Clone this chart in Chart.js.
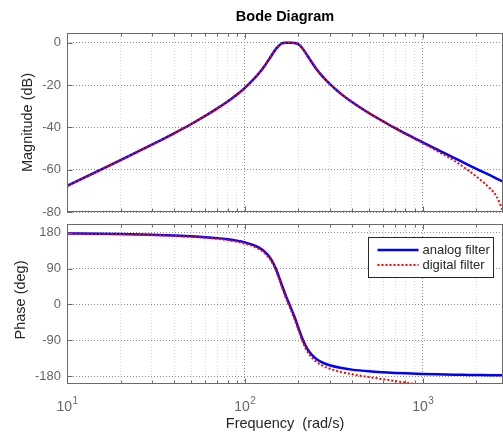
<!DOCTYPE html>
<html>
<head>
<meta charset="utf-8">
<script src="https://cdn.jsdelivr.net/npm/chart.js@4.4.0/dist/chart.umd.min.js"></script>
<style>
    html, body { margin: 0; padding: 0; background: #fff; overflow: hidden; }
    #wrap { position: relative; width: 503px; height: 434px; }
    #magChart { position: absolute; left: 0; top: 0; }
    #phaseChart { position: absolute; left: 0; top: 216px; }
</style>
</head>
<body>
<div id="wrap">
    <canvas id="magChart" width="503" height="216"></canvas>
    <canvas id="phaseChart" width="503" height="218"></canvas>
</div>
<script>
// Frequency points (rad/s)
const freq = [10, 15, 20, 30, 40, 50, 60, 70, 80, 90,
    100, 110, 120, 130, 140, 150, 160, 170, 180, 190, 200, 210, 220, 230,
    250, 270, 300, 350, 400, 500, 600, 700, 800,
    1000, 1200, 1500, 1800, 2100, 2400, 2600, 2827];

// Magnitude (dB)
const magAnalog = [-67.7, -60.6, -55.5, -48.2, -42.8, -38.4, -34.5, -31.0, -27.8, -24.6,
    -21.3, -17.9, -14.4, -10.6, -6.5, -2.8, -0.5, 0, 0, -0.1, -0.7, -2.5, -4.9, -7.4,
    -11.9, -15.4, -19.4, -24.4, -28.0, -33.3, -37.2, -40.4, -43.0,
    -47.1, -50.4, -54.4, -57.7, -60.4, -62.7, -64.2, -65.6];
const magDigital = [-67.7, -60.6, -55.5, -48.2, -42.8, -38.4, -34.5, -31.0, -27.8, -24.6,
    -21.3, -17.9, -14.4, -10.6, -6.5, -2.8, -0.5, 0, 0, -0.1, -0.7, -2.5, -4.9, -7.4,
    -11.9, -15.4, -19.4, -24.4, -28.0, -33.3, -37.2, -40.4, -43.1,
    -47.4, -51.1, -55.7, -60.3, -64.6, -69.0, -72.6, -79.5];

// Phase (deg)
const phaseAnalog = [178.4, 177.6, 176.7, 175.0, 173.2, 171.2, 169.0, 166.5, 163.6, 160.2,
    155.8, 150.2, 142.6, 131.5, 114.4, 87.7, 53.3, 21.5, -5.1, -31.1, -58.8, -84.9, -104.9, -118.9,
    -135.6, -144.9, -152.9, -160.0, -163.9, -168.2, -170.6, -172.2, -173.3,
    -174.7, -175.6, -176.5, -177.1, -177.6, -177.9, -178.0, -178.2];
const phaseDigital = [178.1, 177.2, 176.1, 174.1, 172.0, 169.7, 167.3, 164.5, 161.3, 157.6,
    152.9, 147.0, 139.1, 127.7, 110.3, 83.3, 48.7, 16.6, -10.3, -36.6, -64.6, -91.0, -111.3, -125.6,
    -142.9, -152.7, -161.6, -170.2, -175.5, -182.7, -188.0, -192.5, -196.5,
    -203.7, -210.4, -220.0, -229.3, -238.5, -247.5, -253.4, -260.0];

// Ticks
const freqGrid = [10, 20, 30, 40, 50, 60, 70, 80, 90,
    100, 200, 300, 400, 500, 600, 700, 800, 900, 1000, 2000];
const freqDecades = [10, 100, 1000];
const magTicks = [-80, -60, -40, -20, 0];
const phaseTicks = [-180, -90, 0, 90, 180];
const seriesNames = ['analog filter', 'digital filter'];

const FONT = '"Liberation Sans", Arial, sans-serif';
Chart.defaults.font.family = FONT;

const majorGrid = '#8f8f8f';
const minorGrid = '#dadada';
const frameColor = '#6a6a6a';
const tickText = '#666666';
const labelText = '#262626';

function pts(ys) {
    return freq.map((f, i) => ({ x: f, y: ys[i] }));
}

function datasets(analog, digital) {
    return [
        {
            label: seriesNames[0], data: pts(analog),
            borderColor: '#0000ff', borderWidth: 2.5,
            pointRadius: 0, cubicInterpolationMode: 'monotone', order: 2
        },
        {
            label: seriesNames[1], data: pts(digital),
            borderColor: '#ff0000', borderWidth: 2, borderDash: [2, 2],
            pointRadius: 0, cubicInterpolationMode: 'monotone', order: 1
        }
    ];
}

function xScale(height) {
    return {
        type: 'logarithmic', min: 10, max: 2827,
        afterBuildTicks: s => {
            s.ticks = freqGrid.map(v => ({ value: v, major: freqDecades.includes(v) }));
        },
        afterFit: s => {
            s.height = height;
            s.paddingLeft = 0; s.paddingRight = 0;
        },
        ticks: { display: false, autoSkip: false },
        grid: {
            color: c => (c.tick && c.tick.major) ? majorGrid : minorGrid,
            drawTicks: false
        },
        border: { display: false, dash: [1, 2] }
    };
}

function yScale(min, max, tickList) {
    return {
        min: min, max: max,
        afterBuildTicks: s => { s.ticks = tickList.map(v => ({ value: v })); },
        afterFit: s => {
            s.width = 67;
            s.paddingTop = 0; s.paddingBottom = 0;
        },
        ticks: { color: tickText, font: { size: 13 }, padding: 6 },
        grid: { color: majorGrid, drawTicks: false },
        border: { display: false, dash: [1, 2] }
    };
}

// box, inward tick marks, axis label
function framePlugin(yLabel, labelX, labelDy) {
    return {
        id: 'frame',
        afterDraw(chart) {
            const ctx = chart.ctx;
            const a = chart.chartArea;
            const x = chart.scales.x, y = chart.scales.y;
            const l = Math.round(a.left) + 0.5, r = Math.round(a.right) - 0.5;
            const t = Math.round(a.top) + 0.5, b = Math.round(a.bottom) - 0.5;
            ctx.save();
            ctx.strokeStyle = frameColor;
            ctx.lineWidth = 1;
            ctx.setLineDash([]);
            ctx.strokeRect(l, t, r - l, b - t);
            ctx.beginPath();
            freqGrid.forEach(v => {
                const px = Math.round(x.getPixelForValue(v)) + 0.5;
                const len = freqDecades.includes(v) ? 5 : 3;
                ctx.moveTo(px, b); ctx.lineTo(px, b - len);
                ctx.moveTo(px, t); ctx.lineTo(px, t + len);
            });
            y.ticks.forEach(tk => {
                const py = Math.round(y.getPixelForValue(tk.value)) + 0.5;
                ctx.moveTo(l, py); ctx.lineTo(l + 5, py);
            });
            ctx.stroke();

            ctx.fillStyle = labelText;
            ctx.font = '14.5px ' + FONT;
            ctx.textAlign = 'center';
            ctx.textBaseline = 'middle';
            ctx.translate(labelX, (a.top + a.bottom) / 2 + labelDy);
            ctx.rotate(-Math.PI / 2);
            ctx.fillText(yLabel, 0, 0);
            ctx.restore();
        }
    };
}

const titlePlugin = {
    id: 'bodeTitle',
    afterDraw(chart) {
        const ctx = chart.ctx;
        const a = chart.chartArea;
        ctx.save();
        ctx.fillStyle = '#000';
        ctx.font = 'bold 14.5px ' + FONT;
        ctx.textAlign = 'center';
        ctx.textBaseline = 'middle';
        ctx.fillText('Bode Diagram', (a.left + a.right) / 2, 17);
        ctx.restore();
    }
};

const freqAxisPlugin = {
    id: 'freqAxis',
    afterDraw(chart) {
        const ctx = chart.ctx;
        const a = chart.chartArea;
        const x = chart.scales.x;
        ctx.save();
        ctx.textBaseline = 'alphabetic';
        freqDecades.forEach(v => {
            const px = x.getPixelForValue(v);
            const exp = String(Math.round(Math.log10(v)));
            ctx.font = '14px ' + FONT;
            const wBase = ctx.measureText('10').width;
            ctx.font = '10px ' + FONT;
            const wExp = ctx.measureText(exp).width;
            const x0 = px - (wBase + wExp) / 2;
            ctx.fillStyle = tickText;
            ctx.textAlign = 'left';
            ctx.font = '14px ' + FONT;
            ctx.fillText('10', x0, a.bottom + 27);
            ctx.font = '10px ' + FONT;
            ctx.fillText(exp, x0 + wBase + 0.5, a.bottom + 20);
        });
        ctx.fillStyle = labelText;
        ctx.font = '14.5px ' + FONT;
        ctx.textAlign = 'center';
        ctx.fillText('Frequency  (rad/s)', (a.left + a.right) / 2, a.bottom + 44);
        ctx.restore();
    }
};

const legendPlugin = {
    id: 'boxLegend',
    afterDraw(chart) {
        const ctx = chart.ctx;
        const a = chart.chartArea;
        const w = 125, h = 40;
        const bx = Math.round(a.right - 10 - w) + 0.5;
        const by = Math.round(a.top + 13) + 0.5;
        ctx.save();
        ctx.fillStyle = '#fff';
        ctx.fillRect(bx, by, w, h);
        ctx.strokeStyle = '#262626';
        ctx.lineWidth = 1;
        ctx.strokeRect(bx, by, w, h);
        ctx.font = '13px ' + FONT;
        ctx.textBaseline = 'middle';
        ctx.textAlign = 'left';
        chart.data.datasets.forEach((ds, i) => {
            const ly = by + 12.5 + i * 15;
            ctx.strokeStyle = ds.borderColor;
            ctx.lineWidth = ds.borderWidth;
            ctx.setLineDash(ds.borderDash || []);
            ctx.beginPath();
            ctx.moveTo(bx + 9, ly);
            ctx.lineTo(bx + 50, ly);
            ctx.stroke();
            ctx.fillStyle = labelText;
            ctx.fillText(ds.label, bx + 54, ly);
        });
        ctx.restore();
    }
};

new Chart(document.getElementById('magChart'), {
    type: 'line',
    data: { datasets: datasets(magAnalog, magDigital) },
    options: {
        responsive: false,
        animation: false,
        layout: { padding: { top: 33, left: 0, right: 0, bottom: 0 } },
        plugins: { legend: { display: false }, tooltip: { enabled: false } },
        scales: {
            x: xScale(4),
            y: yScale(-80, 4.6, magTicks)
        }
    },
    plugins: [titlePlugin, framePlugin('Magnitude (dB)', 28, 0)]
});

new Chart(document.getElementById('phaseChart'), {
    type: 'line',
    data: { datasets: datasets(phaseAnalog, phaseDigital) },
    options: {
        responsive: false,
        animation: false,
        layout: { padding: { top: 8, left: 0, right: 0, bottom: 0 } },
        plugins: { legend: { display: false }, tooltip: { enabled: false } },
        scales: {
            x: xScale(50),
            y: yScale(-200, 202, phaseTicks)
        }
    },
    plugins: [framePlugin('Phase (deg)', 21, -4), freqAxisPlugin, legendPlugin]
});
</script>
</body>
</html>
